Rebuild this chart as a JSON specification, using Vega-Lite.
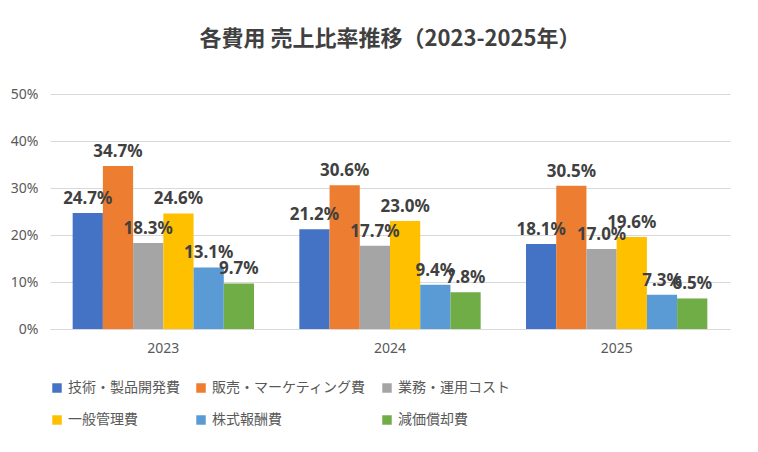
{
  "$schema": "https://vega.github.io/schema/vega-lite/v6.json",
  "width": 680,
  "height": 235,
  "padding": {"left": 10, "top": 28, "right": 12, "bottom": 5},
  "background": "white",
  "config": {"view": {"stroke": null}},
  "title": {"text": "各費用 売上比率推移（2023-2025年）", "fontSize": 22, "fontWeight": "bold", "color": "#404040", "font": "Noto Sans CJK JP", "offset": 36},
  "data": {"values": [
    {"year": "2023", "cat": "技術・製品開発費", "v": 0.247},
    {"year": "2023", "cat": "販売・マーケティング費", "v": 0.347},
    {"year": "2023", "cat": "業務・運用コスト", "v": 0.183},
    {"year": "2023", "cat": "一般管理費", "v": 0.246},
    {"year": "2023", "cat": "株式報酬費", "v": 0.131},
    {"year": "2023", "cat": "減価償却費", "v": 0.097},
    {"year": "2024", "cat": "技術・製品開発費", "v": 0.212},
    {"year": "2024", "cat": "販売・マーケティング費", "v": 0.306},
    {"year": "2024", "cat": "業務・運用コスト", "v": 0.177},
    {"year": "2024", "cat": "一般管理費", "v": 0.230},
    {"year": "2024", "cat": "株式報酬費", "v": 0.094},
    {"year": "2024", "cat": "減価償却費", "v": 0.078},
    {"year": "2025", "cat": "技術・製品開発費", "v": 0.181},
    {"year": "2025", "cat": "販売・マーケティング費", "v": 0.305},
    {"year": "2025", "cat": "業務・運用コスト", "v": 0.170},
    {"year": "2025", "cat": "一般管理費", "v": 0.196},
    {"year": "2025", "cat": "株式報酬費", "v": 0.073},
    {"year": "2025", "cat": "減価償却費", "v": 0.065}
  ]},
  "encoding": {
    "x": {"field": "year", "type": "nominal", "title": null,
      "scale": {"paddingInner": 0.2, "paddingOuter": 0.1},
      "axis": {"labelAngle": 0, "labelFontSize": 14, "labelColor": "#595959", "domainColor": "#d9d9d9", "ticks": false, "labelPadding": 12, "labelFont": "Noto Sans"}},
    "xOffset": {"field": "cat", "type": "nominal", "sort": ["技術・製品開発費", "販売・マーケティング費", "業務・運用コスト", "一般管理費", "株式報酬費", "減価償却費"], "scale": {"paddingInner": 0}},
    "y": {"field": "v", "type": "quantitative", "title": null,
      "scale": {"domain": [0, 0.5]},
      "axis": {"format": ".0%", "values": [0, 0.1, 0.2, 0.3, 0.4, 0.5], "labelOverlap": false, "labelFontSize": 14, "labelColor": "#595959", "domain": false, "ticks": false, "gridColor": "#d9d9d9", "labelPadding": 12, "labelFont": "Noto Sans"}}
  },
  "layer": [
    {
      "mark": {"type": "bar"},
      "encoding": {
        "color": {"field": "cat", "type": "nominal", "title": null,
          "scale": {"domain": ["技術・製品開発費", "販売・マーケティング費", "業務・運用コスト", "一般管理費", "株式報酬費", "減価償却費"],
            "range": ["#4472C4", "#ED7D31", "#A5A5A5", "#FFC000", "#5B9BD5", "#70AD47"]},
          "legend": {"orient": "bottom", "columns": 3, "symbolType": "square", "symbolSize": 90, "labelFontSize": 14, "labelColor": "#595959", "labelFont": "Noto Sans CJK JP", "columnPadding": 14, "rowPadding": 18, "labelLimit": 300, "offset": 26}}
      }
    },
    {
      "mark": {"type": "text", "dy": -14, "fontSize": 17, "fontWeight": "bold", "color": "#404040", "font": "Noto Sans"},
      "encoding": {"text": {"field": "v", "type": "quantitative", "format": ".1%"}}
    }
  ]
}
